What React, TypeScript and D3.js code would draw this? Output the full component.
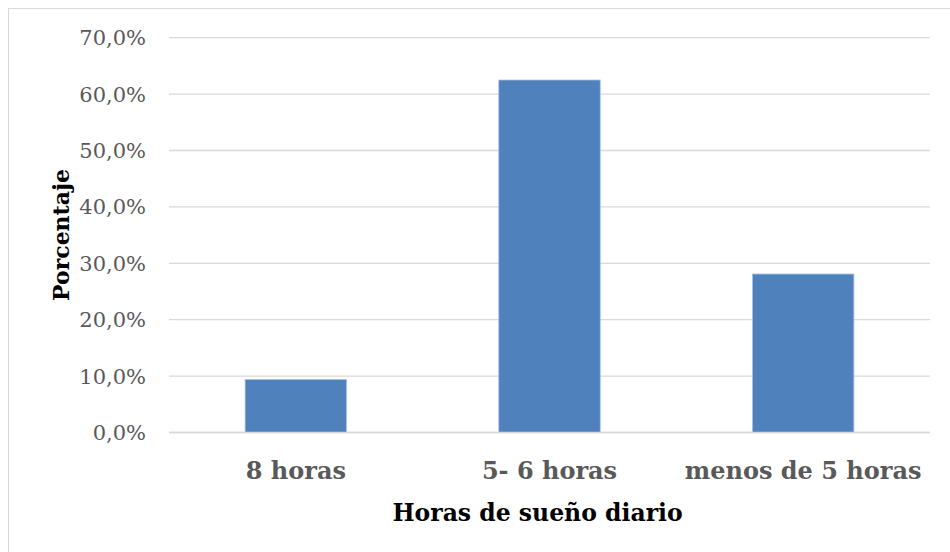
import React from "react";
import * as d3 from "d3";

const categories = ["8 horas", "5- 6 horas", "menos de 5 horas"];
const values = [9.4, 62.5, 28.1];
const yTicks = [0, 10, 20, 30, 40, 50, 60, 70];
const xTitle = "Horas de sueño diario";
const yTitle = "Porcentaje";

export default function App() {
  const W = 950, H = 552;
  const left = 169, right = 930, top = 37.7, bottom = 432.5;
  const x = d3.scaleBand<string>().domain(categories).range([left, right]).paddingInner(0.6).paddingOuter(0.3);
  const y = d3.scaleLinear().domain([0, 70]).range([bottom, top]);
  const fmt = (v: number) => v.toFixed(1).replace(".", ",") + "%";
  const font = "'DejaVu Serif', serif";
  return (
    <svg width={W} height={H} style={{ position: "absolute", left: 0, top: 0, background: "#fff" }}>
      <rect x={8.5} y={8.5} width={960} height={560} fill="#fff" stroke="#d9d9d9" strokeWidth={1} />
      {yTicks.map((t) => (
        <g key={t}>
          <line x1={left} x2={right} y1={y(t)} y2={y(t)} stroke="#d9d9d9" strokeWidth={1.3} />
          <text x={146} y={y(t)} dy="0.36em" textAnchor="end" fontFamily={font} fontSize={21} fill="#595959">
            {fmt(t)}
          </text>
        </g>
      ))}
      {categories.map((c, i) => (
        <rect
          key={c}
          x={x(c)!}
          y={y(values[i])}
          width={x.bandwidth()}
          height={y(0) - y(values[i])}
          fill="#4F81BD"
          stroke="#A9C4E4"
          strokeWidth={0.8}
        />
      ))}
      <line x1={left} x2={right} y1={y(0)} y2={y(0)} stroke="#d9d9d9" strokeWidth={1.3} />
      {categories.map((c) => (
        <text key={c} x={x(c)! + x.bandwidth() / 2} y={479} textAnchor="middle" fontFamily={font} fontWeight="bold" fontSize={24} fill="#595959">
          {c}
        </text>
      ))}
      <text x={537.5} y={521} textAnchor="middle" fontFamily={font} fontWeight="bold" fontSize={23.5} fill="#000">
        {xTitle}
      </text>
      <text transform={`translate(69,235) rotate(-90)`} textAnchor="middle" fontFamily={font} fontWeight="bold" fontSize={22} fill="#000">
        {yTitle}
      </text>
    </svg>
  );
}
